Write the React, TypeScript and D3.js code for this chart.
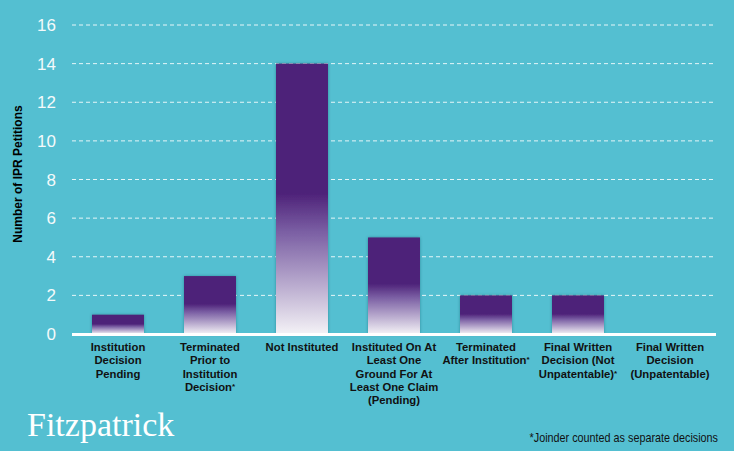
import React from "react";
import * as d3 from "d3";

const categories = [
  "Institution Decision Pending",
  "Terminated Prior to Institution Decision*",
  "Not Instituted",
  "Instituted On At Least One Ground For At Least One Claim (Pending)",
  "Terminated After Institution*",
  "Final Written Decision (Not Unpatentable)*",
  "Final Written Decision (Unpatentable)",
];
const labelLines = [
  ["Institution", "Decision", "Pending"],
  ["Terminated", "Prior to", "Institution", "Decision*"],
  ["Not Instituted"],
  ["Instituted On At", "Least One", "Ground For At", "Least One Claim", "(Pending)"],
  ["Terminated", "After Institution*"],
  ["Final Written", "Decision (Not", "Unpatentable)*"],
  ["Final Written", "Decision", "(Unpatentable)"],
];
const values = [1, 3, 14, 5, 2, 2, 0];
const yTicks = [0, 2, 4, 6, 8, 10, 12, 14, 16];

const W = 734;
const H = 451;
const left = 72;
const right = 716;
const top = 25;
const bottom = 334;

function renderLine(l: string) {
  if (l.endsWith("*")) {
    return (
      <>
        {l.slice(0, -1)}
        <tspan fontSize={8} dy={-2}>*</tspan>
      </>
    );
  }
  return l;
}

export default function App() {
  const x = d3.scaleBand<string>().domain(categories).range([left, right]).paddingInner(0.435).paddingOuter(0.2175);
  const y = d3.scaleLinear().domain([0, 16]).range([bottom, top]);

  return (
    <svg width={W} height={H} style={{ position: "absolute", left: 0, top: 0 }} fontFamily="Arial, 'Liberation Sans', sans-serif">
      <defs>
        <linearGradient id="barGrad" x1="0" y1="0" x2="0" y2="1">
          <stop offset="0" stopColor="#4e2279" />
          <stop offset="0.48" stopColor="#4e2279" />
          <stop offset="0.62" stopColor="#7a5ea3" />
          <stop offset="0.78" stopColor="#ad9cc6" />
          <stop offset="1" stopColor="#f4f2f6" />
        </linearGradient>
        <filter id="shadow" x="-20%" y="-20%" width="140%" height="140%">
          <feDropShadow dx="0" dy="0" stdDeviation="1.5" floodColor="#1d4f5a" floodOpacity="0.45" />
        </filter>
      </defs>
      <rect x={0} y={0} width={W} height={H} fill="#54bfd1" />
      {yTicks.filter((t) => t > 0).map((t) => (
        <line key={t} x1={left} x2={right} y1={y(t)} y2={y(t)} stroke="#ffffff" strokeOpacity={0.85} strokeWidth={1} strokeDasharray="4,3" />
      ))}
      {yTicks.map((t) => (
        <text key={t} x={56} y={y(t)} dy="0.36em" textAnchor="end" fill="#f4fafb" fontSize={17}>
          {t}
        </text>
      ))}
      {categories.map((c, i) =>
        values[i] > 0 ? (
          <rect key={c} x={x(c)} y={y(values[i])} width={x.bandwidth()} height={bottom - y(values[i])} fill="url(#barGrad)" filter="url(#shadow)" />
        ) : null
      )}
      <line x1={left} x2={right} y1={bottom + 0.5} y2={bottom + 0.5} stroke="#ffffff" strokeWidth={3} />
      {categories.map((c, i) => {
        const cx = (x(c) as number) + x.bandwidth() / 2;
        return labelLines[i].map((l, j) => (
          <text key={c + j} x={cx} y={351 + j * 13.3} textAnchor="middle" fontSize={11.3} fontWeight="bold" fill="#111">
            {renderLine(l)}
          </text>
        ));
      })}
      <text transform={`translate(22,174) rotate(-90)`} textAnchor="middle" fontSize={12} fontWeight="bold" fill="#000">
        Number of IPR Petitions
      </text>
      <text x={27} y={436} fontFamily="'Liberation Serif', 'DejaVu Serif', serif" fontSize={34} fill="#ffffff">
        Fitzpatrick
      </text>
      <text x={718} y={442} textAnchor="end" fontSize={12} fill="#111" transform="translate(718,0) scale(0.9,1) translate(-718,0)">
        *Joinder counted as separate decisions
      </text>
    </svg>
  );
}
